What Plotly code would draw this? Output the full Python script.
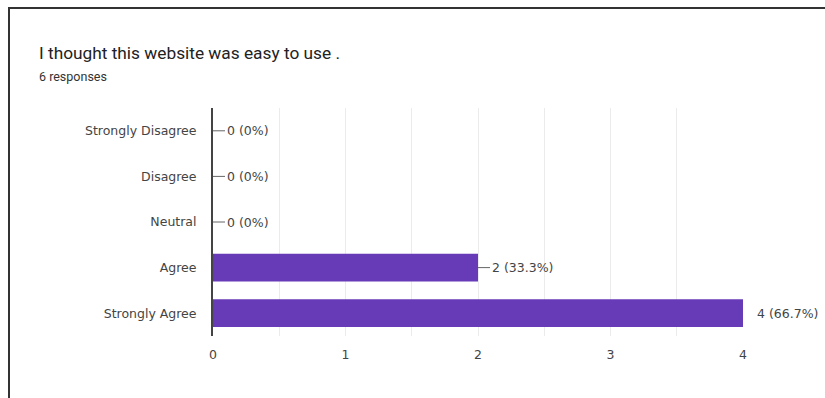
import plotly.graph_objects as go

categories = ["Strongly Disagree", "Disagree", "Neutral", "Agree", "Strongly Agree"]
counts = [0, 0, 0, 2, 4]
total = 6
title = "I thought this website was easy to use ."
subtitle = "6 responses"

labels = []
for c in counts:
    pct = c / total * 100
    s = f"{pct:.1f}".rstrip("0").rstrip(".")
    labels.append(f"{c} ({s}%)")

fig = go.Figure(go.Bar(
    x=counts, y=categories, orientation="h",
    marker=dict(color="#673ab7", line=dict(width=0)),
    hoverinfo="skip",
))

W, H = 825, 398
L, R, T, B = 213, 82, 108, 62
pw, ph = W - L - R, H - T - B

def px_x(p):
    return (p - L) / pw

def px_y(p):
    return (H - B - p) / ph

LABEL_FONT = dict(family="DejaVu Sans, sans-serif", size=12.5, color="#444444")

annotations = []
for cat, c, lab in zip(categories, counts, labels):
    last = c == max(counts)
    annotations.append(dict(
        x=c, y=cat, xref="x", yref="y", text=lab,
        showarrow=True, arrowhead=0, arrowwidth=1,
        arrowcolor="#ffffff" if last else "#666666",
        ax=12, ay=0, xanchor="left", yanchor="middle",
        font=LABEL_FONT,
    ))

annotations.append(dict(
    x=px_x(37), y=px_y(53), xref="paper", yref="paper", text=title,
    showarrow=False, xanchor="left", yanchor="middle",
    font=dict(family="Roboto, sans-serif", size=17.3, color="#222222"),
))
annotations.append(dict(
    x=px_x(37), y=px_y(76), xref="paper", yref="paper", text=subtitle,
    showarrow=False, xanchor="left", yanchor="middle",
    font=dict(family="Roboto, sans-serif", size=12.5, color="#333333"),
))

fig.update_layout(
    width=W, height=H,
    margin=dict(l=L, r=R, t=T, b=B, pad=0),
    paper_bgcolor="white", plot_bgcolor="white",
    bargap=0.39,
    showlegend=False,
    annotations=annotations,
    shapes=[dict(
        type="rect", xref="paper", yref="paper",
        x0=px_x(9), x1=px_x(W + 20), y0=px_y(H + 20), y1=px_y(8),
        line=dict(color="#333333", width=2), fillcolor="rgba(0,0,0,0)", layer="above",
    )],
    xaxis=dict(
        range=[0, 4], dtick=1, tick0=0,
        showgrid=True, gridcolor="#ebebeb", gridwidth=1,
        minor=dict(dtick=0.5, showgrid=True, gridcolor="#ebebeb"),
        zeroline=False, showline=False,
        ticks="", ticklabelstandoff=9,
        tickfont=LABEL_FONT,
        fixedrange=True,
    ),
    yaxis=dict(
        categoryorder="array", categoryarray=categories, autorange="reversed",
        showgrid=False, zeroline=False,
        showline=True, linecolor="#444444", linewidth=2,
        ticks="", ticklabelstandoff=12,
        tickfont=LABEL_FONT,
        fixedrange=True,
    ),
)

fig.write_html(
    "out.html",
    config={"displayModeBar": False},
    post_script="document.body.style.margin='0px';document.body.style.overflow='hidden';",
)
